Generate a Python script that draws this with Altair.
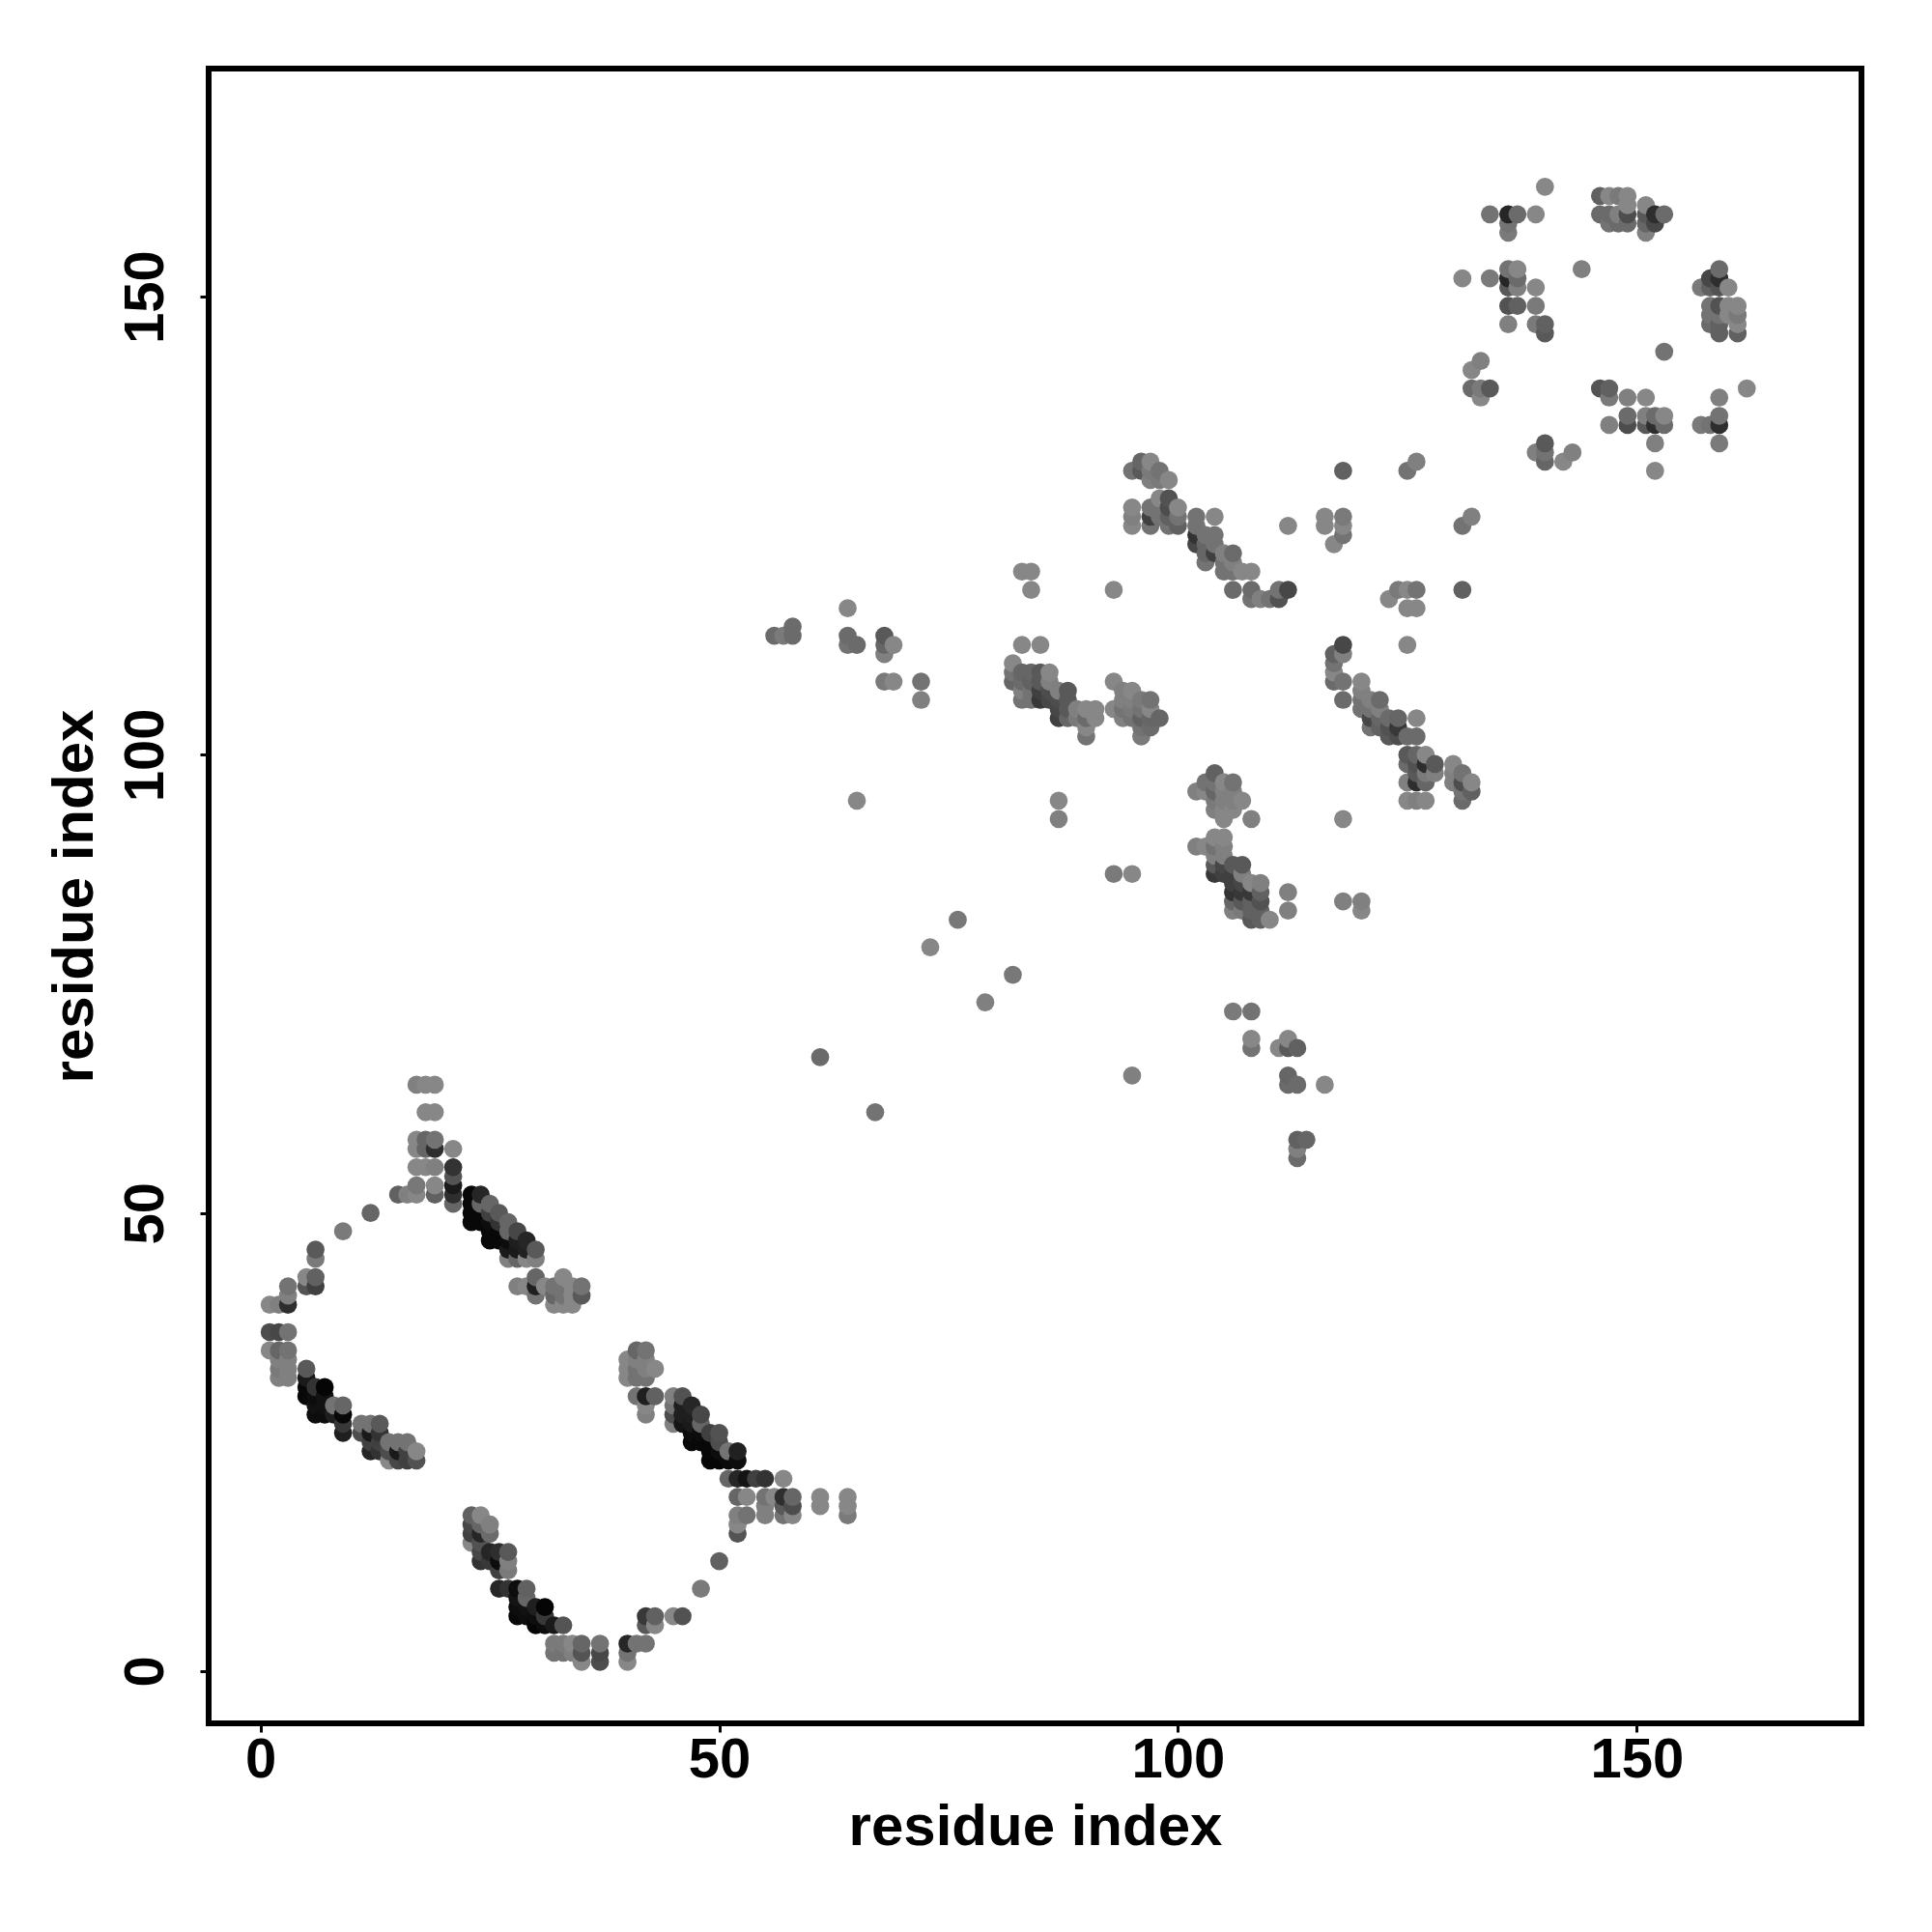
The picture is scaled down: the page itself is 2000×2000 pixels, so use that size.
import altair as alt
import pandas as pd

# (residue x, residue y, contact darkness 0..1)
hairpin_top = [
 (17,64,.5),(18,64,.47),(19,64,.47),(18,61,.47),(19,61,.47),
 (17,58,.47),(18,58,.6),(19,58,.55),(17,57,.47),(18,57,.6),(19,57,.82),(21,57,.47),
 (17,55,.47),(18,55,.47),(19,55,.5),(21,55,.8),(21,54,.67),
 (17,53,.53),(19,53,.47),(21,53,.9),(15,52,.62),(16,52,.5),(17,52,.47),(19,52,.62),(21,52,.82),(21,51,.6),
 (12,50,.6),(9,48,.52),(6,46,.65),(6,45,.52),(5,43,.47),(6,43,.62),(5,42,.67),(6,42,.75),
 (3,42,.55),(3,41,.5),(3,40,.82),(1,40,.47),(2,40,.5),
 (1,37,.7),(2,37,.72),(3,37,.55),
 (1,35,.47),(2,35,.6),(3,35,.55),(2,34,.5),(3,34,.5),(2,33,.52),(3,33,.5),(2,32,.5),(3,32,.5),
]
band_a = [
 (23,52,.97),(24,52,.85),(23,51,.97),(24,51,.6),(25,51,.6),(23,50,.97),(24,50,.97),(25,50,.75),(26,50,.65),
 (23,49,.97),(24,49,.97),(25,49,.95),(26,49,.8),(27,49,.6),(25,48,.97),(26,48,.97),(27,48,.6),(28,48,.72),
 (25,47,.97),(26,47,.97),(27,47,.95),(28,47,.88),(29,47,.85),(27,46,.9),(28,46,.9),(29,46,.87),(30,46,.65),
 (27,45,.5),(28,45,.6),(29,45,.47),(30,45,.5),
 (30,43,.6),(28,42,.5),(29,42,.47),(30,42,.88),(31,42,.47),(30,41,.55),
 (32,42,.55),(33,43,.47),(34,42,.47),(35,42,.55),(32,41,.6),(33,41,.55),(34,41,.47),(35,41,.65),
 (32,40,.47),(33,40,.47),(34,40,.47),
]
band_b = [
 (5,33,.65),(5,32,.9),(5,31,.97),(6,31,.8),(7,31,.98),(5,30,.97),(6,30,.95),(7,30,.93),
 (6,29,.93),(7,29,.93),(8,29,.55),(9,29,.6),(6,28,.95),(7,28,.95),(8,28,.88),(9,28,.97),(9,27,.78),(9,26,.88),
 (11,27,.55),(12,27,.55),(13,27,.65),(11,26,.7),(12,26,.9),(13,26,.8),(12,25,.75),(13,25,.75),(12,24,.85),(13,24,.8),
 (14,25,.55),(15,25,.55),(16,25,.55),(14,24,.7),(15,24,.9),(16,24,.75),(17,24,.47),
 (14,23,.47),(15,23,.72),(16,23,.75),(17,23,.68),
]
cluster_c = [
 (41,35,.6),(42,35,.55),(40,34,.47),(41,34,.5),(42,34,.5),(40,33,.47),(41,33,.55),(42,33,.5),(43,33,.47),
 (40,32,.47),(41,32,.55),(42,32,.55),(41,30,.55),(42,30,.88),(43,30,.62),(42,29,.47),(42,28,.5),
]
band_d = [
 (45,30,.5),(46,30,.68),(45,29,.55),(46,29,.88),(47,29,.85),(45,28,.7),(46,28,.88),(47,28,.88),(48,28,.72),
 (45,27,.5),(46,27,.92),(47,27,.9),(48,27,.6),(47,26,.95),(48,26,.95),(49,26,.75),(50,26,.68),
 (47,25,.97),(48,25,.97),(49,25,.97),(50,25,.7),(49,24,.97),(50,24,.95),(51,24,.55),(52,24,.87),
 (49,23,.98),(50,23,.98),(51,23,.96),(52,23,.95),
 (51,21,.6),(52,21,.85),(53,21,.92),(54,21,.75),(55,21,.8),(57,21,.47),
 (52,19,.6),(53,19,.47),(55,19,.55),(56,19,.47),(57,19,.82),(58,19,.6),(61,19,.47),(64,19,.47),
 (55,18,.5),(57,18,.65),(58,18,.7),(61,18,.47),(64,18,.47),
 (52,17,.5),(53,17,.55),(55,17,.5),(57,17,.55),(58,17,.47),(64,17,.52),
 (52,16,.47),(52,15,.67),(50,12,.62),(48,9,.52),
 (42,6,.78),(43,6,.62),(45,6,.47),(46,6,.68),(42,5,.65),(43,5,.47),
]
turn_e = [
 (32,3,.52),(33,3,.52),(34,3,.47),(35,3,.6),(37,3,.55),(40,3,.85),(41,3,.55),(42,3,.55),
 (32,2,.55),(33,2,.55),(34,2,.5),(35,2,.67),(37,2,.72),(40,2,.55),(35,1,.47),(37,1,.7),(40,1,.47),
]
band_f = [
 (23,17,.62),(24,17,.47),(23,16,.72),(24,16,.6),(25,16,.5),(23,15,.75),(24,15,.85),(25,15,.58),(23,14,.47),(24,14,.68),
 (24,13,.72),(25,13,.85),(26,13,.82),(27,13,.65),(24,12,.8),(25,12,.78),(26,12,.95),(27,12,.5),(26,11,.75),(27,11,.52),
 (26,9,.85),(27,9,.8),(28,9,.95),(29,9,.62),(28,8,.92),(29,8,.6),
 (28,7,.95),(29,7,.93),(30,7,.88),(31,7,.98),(28,6,.97),(29,6,.95),(30,6,.95),(31,6,.78),
 (30,5,.98),(31,5,.95),(32,5,.9),(33,5,.67),
]
sparse_g = [
 (64,116,.47),(84,118,.47),(56,113,.58),(57,113,.52),(58,113,.58),(58,114,.58),(64,113,.58),(64,112,.55),(65,112,.58),
 (68,113,.65),(68,112,.6),(69,112,.47),(68,111,.5),(68,108,.52),(69,108,.47),(72,108,.55),(72,106,.5),
 (83,112,.47),(85,112,.47),(84,120,.47),(83,120,.47),(65,95,.47),(87,95,.47),(87,93,.5),(93,87,.52),(95,87,.47),
 (76,82,.53),(73,79,.47),(82,76,.53),(61,67,.58),(79,73,.5),(67,61,.55),(95,65,.5),
]
band_h = [
 (82,110,.47),(82,109,.55),(82,108,.6),(83,109,.6),(84,109,.6),(85,109,.65),(86,109,.47),
 (83,108,.58),(84,108,.62),(85,108,.65),(86,108,.5),(83,107,.5),(84,107,.55),(85,107,.75),(86,107,.7),
 (83,106,.55),(84,106,.55),(85,106,.78),(86,106,.72),(87,107,.5),(88,107,.65),(87,106,.7),(88,106,.65),
 (87,105,.72),(88,105,.65),(87,104,.75),(88,104,.6),(89,105,.5),(90,105,.47),(91,105,.47),
 (89,104,.52),(90,104,.58),(91,104,.47),(90,103,.47),(90,102,.55),
]
cluster_i = [
 (93,108,.47),(94,107,.5),(95,107,.47),(94,106,.5),(95,106,.5),(93,105,.47),(94,105,.55),(95,105,.52),
 (96,106,.52),(97,106,.55),(96,105,.55),(97,105,.47),(94,104,.5),(95,104,.55),(96,104,.62),(97,104,.6),(98,104,.6),
 (96,103,.55),(97,103,.58),(96,102,.52),
]
cluster_j = [
 (95,131,.55),(96,132,.6),(97,132,.47),(96,131,.65),(97,131,.52),(98,131,.55),(97,130,.5),(98,130,.52),(99,130,.47),
 (95,127,.47),(95,126,.5),(95,125,.47),(97,127,.55),(97,126,.75),(97,125,.55),(98,128,.47),(98,127,.55),(98,126,.55),
 (99,128,.68),(99,127,.7),(99,126,.62),(99,125,.55),(100,127,.47),(100,126,.55),(100,125,.62),
]
band_k = [
 (102,126,.55),(104,126,.47),(102,125,.55),(102,124,.8),(102,123,.72),(103,124,.55),(104,124,.55),(103,123,.6),(104,123,.55),
 (103,122,.6),(104,122,.75),(103,121,.55),(105,122,.5),(106,122,.58),(105,121,.55),(106,121,.5),(105,120,.55),(106,120,.55),(107,120,.47),(108,120,.47),
 (106,118,.58),(108,118,.58),(111,118,.55),(112,118,.72),(108,117,.55),(109,117,.5),(110,117,.55),(111,117,.68),
 (93,118,.47),(112,125,.47),(116,126,.47),(116,125,.47),(118,126,.52),(118,125,.47),(118,124,.55),(117,123,.47),(118,131,.62),
 (125,131,.55),(126,132,.5),(132,126,.5),(131,125,.55),
 (124,118,.52),(125,118,.47),(126,118,.55),(123,117,.47),(125,116,.47),(126,116,.47),(131,118,.62),(125,112,.47),
]
band_l = [
 (118,112,.72),(117,111,.62),(118,111,.5),(117,110,.55),(117,109,.47),(117,108,.58),(118,108,.55),(118,106,.58),
 (120,108,.47),(120,107,.5),(120,106,.55),(121,106,.5),(122,106,.58),(120,105,.55),(121,105,.55),(122,105,.5),
 (121,104,.72),(122,104,.6),(123,104,.58),(124,104,.6),(126,104,.47),(121,103,.55),(122,103,.62),(123,103,.68),(124,103,.78),
 (123,102,.65),(124,102,.7),(125,102,.58),(126,102,.58),
 (125,100,.65),(126,100,.6),(127,100,.47),(125,99,.58),(126,99,.68),(127,99,.82),(128,99,.65),
 (126,98,.65),(127,98,.52),(128,98,.5),(125,97,.5),(126,97,.82),(127,97,.6),
 (125,95,.47),(126,95,.5),(127,95,.47),
 (130,99,.47),(130,98,.5),(130,97,.5),(131,98,.55),(131,97,.7),(131,96,.55),(131,95,.58),(132,97,.47),(132,96,.62),(118,93,.47),
]
cluster_m = [
 (104,98,.62),(103,97,.55),(104,97,.55),(105,97,.47),(106,97,.55),(102,96,.5),(103,96,.47),(104,96,.6),(105,96,.5),(106,96,.5),
 (104,95,.52),(105,95,.5),(106,95,.5),(107,95,.47),(104,94,.5),(105,94,.47),(106,94,.47),(105,93,.47),(108,93,.5),
]
band_n = [
 (102,90,.5),(103,90,.47),(104,91,.47),(105,91,.47),(104,90,.55),(105,90,.5),(104,89,.5),(105,89,.5),
 (104,88,.65),(105,88,.72),(106,88,.65),(107,88,.65),(104,87,.78),(105,87,.75),(106,87,.75),(107,87,.5),
 (106,86,.75),(107,86,.72),(108,86,.47),(109,86,.5),(106,85,.8),(107,85,.78),(108,85,.78),(109,85,.62),
 (106,84,.6),(107,84,.65),(108,84,.62),(109,84,.68),(106,83,.5),(107,83,.52),(108,83,.62),(109,83,.62),
 (108,82,.65),(109,82,.62),(110,82,.47),
 (112,85,.5),(112,83,.5),(118,84,.5),(120,84,.5),(120,83,.47),
 (106,72,.52),(108,72,.55),(108,69,.47),(108,68,.55),(112,69,.47),(111,68,.47),(112,68,.65),(113,68,.62),
 (112,65,.6),(112,64,.58),(113,64,.58),(116,64,.47),(113,58,.62),(114,58,.6),(113,57,.5),(113,56,.58),
]
ring_o = [
 (140,162,.47),(134,159,.55),(136,159,.85),(137,159,.58),(139,159,.47),(136,158,.55),(136,157,.52),
 (146,161,.62),(147,161,.47),(148,161,.52),(149,161,.47),(146,159,.58),(147,159,.58),(148,159,.5),(149,159,.7),
 (149,160,.47),(151,160,.47),(147,158,.55),(148,158,.58),(149,158,.58),(151,159,.65),(152,159,.82),(153,159,.58),
 (151,158,.6),(152,158,.72),(151,157,.5),
 (144,153,.5),(131,152,.47),(134,152,.52),(136,153,.55),(137,153,.47),(136,152,.85),(137,152,.58),
 (136,151,.65),(137,151,.5),(139,151,.47),(136,149,.68),(137,149,.62),(139,149,.52),
 (136,147,.5),(139,147,.52),(140,147,.62),(140,146,.65),
 (159,153,.58),(158,152,.72),(159,152,.82),(157,151,.52),(158,151,.62),(159,151,.68),(160,151,.47),
 (158,149,.55),(159,149,.68),(160,149,.47),(161,149,.47),(158,148,.55),(159,148,.55),(160,148,.47),(161,148,.52),
 (158,147,.58),(159,147,.62),(161,147,.47),(159,146,.62),(161,146,.62),
 (153,144,.55),
]
ring_p = [
 (133,143,.5),(132,142,.47),(132,140,.58),(133,140,.52),(134,140,.65),(133,139,.47),
 (146,140,.67),(147,140,.62),(147,139,.52),(149,139,.5),(151,139,.47),(149,137,.58),(151,137,.5),(152,137,.58),(153,137,.47),
 (147,136,.5),(149,136,.7),(151,136,.65),(152,136,.82),(153,136,.58),(152,134,.5),(152,131,.47),
 (159,139,.5),(162,140,.47),(159,137,.55),(157,136,.52),(158,136,.55),(159,136,.82),(159,134,.52),
 (140,134,.65),(139,133,.5),(140,133,.55),(140,132,.6),(142,132,.47),(143,133,.5),
]

groups = [hairpin_top, band_a, band_b, cluster_c, band_d, turn_e, band_f, sparse_g, band_h,
          cluster_i, cluster_j, band_k, band_l, cluster_m, band_n, ring_o, ring_p]
rows = sorted({(x, y): s for g in groups for x, y, s in g}.items())
df = pd.DataFrame([{"x": k[0], "y": k[1], "s": s} for k, s in rows])

tick_values = [0, 50, 100, 150]
FONT = "Liberation Sans"

def axis(**kw):
    return alt.Axis(values=tick_values, domain=False, grid=False, ticks=True, tickColor="black",
                    tickWidth=3, tickSize=9, labelFont=FONT, labelFontWeight="bold", labelFontSize=58,
                    labelColor="black", labelFlush=False, labelOverlap=False, titleFont=FONT,
                    titleFontWeight="bold", titleFontSize=60, titleColor="black", **kw)

chart = (
    alt.Chart(df)
    .mark_circle(size=350, opacity=1)
    .encode(
        x=alt.X("x:Q", title="residue index", scale=alt.Scale(domain=[-5.65, 174.5], nice=False, zero=False),
                axis=axis(labelPadding=0, titlePadding=11)),
        y=alt.Y("y:Q", title="residue index", scale=alt.Scale(domain=[-5.7, 174.9], nice=False, zero=False),
                axis=axis(labelAngle=270, labelAlign="center", labelBaseline="bottom", labelPadding=27, titlePadding=14)),
        color=alt.Color("s:Q", legend=None,
                        scale=alt.Scale(domain=[0, 1], range=["#ffffff", "#000000"], interpolate="rgb")),
        order=alt.Order("x:Q"),
    )
    .properties(width=1711, height=1713, autosize="none", background="white",
                padding={"left": 208, "top": 63, "right": 60, "bottom": 200})
    .configure_view(stroke="black", strokeWidth=6, fill="white")
)
chart.save("out.html", embed_options={"renderer": "svg", "actions": False})
